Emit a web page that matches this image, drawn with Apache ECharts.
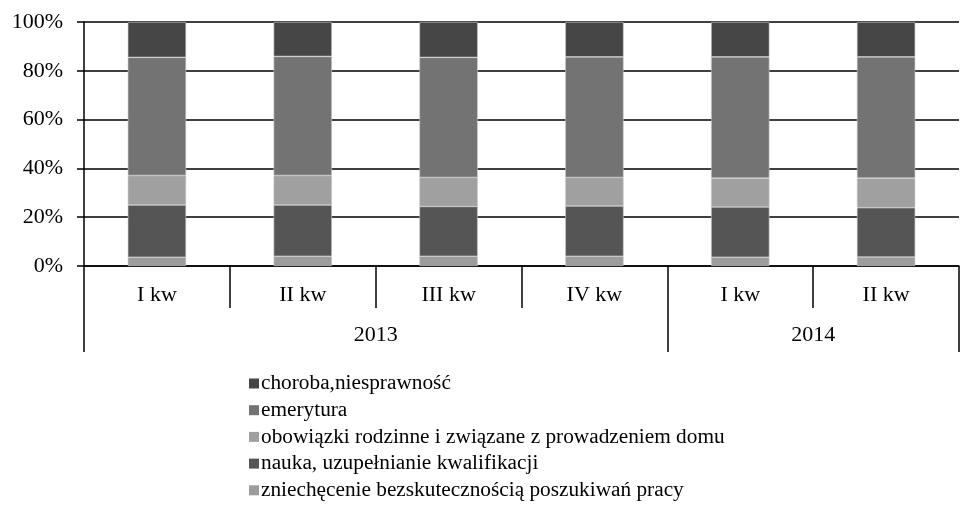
<!DOCTYPE html>
<html>
<head>
<meta charset="utf-8">
<script src="https://cdn.jsdelivr.net/npm/echarts@6/dist/echarts.min.js"></script>
<style>
  html, body { margin: 0; padding: 0; background: #fff; }
  #chart { width: 962px; height: 505px; }
</style>
</head>
<body>
<div id="chart"></div>
<script>
// kwartały i lata
var quarters = ['I kw', 'II kw', 'III kw', 'IV kw', 'I kw', 'II kw'];
var years = ['', '', '', '', '2013', '', '', '', '', '', '2014', '', ''];
var yTicks = [0, 20, 40, 60, 80, 100];

// udziały w % (od dołu słupka)
var zniechecenie = [3.6, 4.0, 4.0, 4.0, 3.6, 3.7];
var nauka = [21.4, 21.0, 20.4, 20.6, 20.6, 20.2];
var obowiazki = [12.1, 12.1, 11.9, 11.7, 11.8, 12.1];
var emerytura = [48.4, 48.8, 49.2, 49.4, 49.7, 49.7];
var choroba = [14.5, 14.1, 14.5, 14.3, 14.3, 14.3];

var font = 'Liberation Serif';
var chart = echarts.init(document.getElementById('chart'));

function bar(name, data, color) {
  return {
    name: name,
    type: 'bar',
    stack: 'all',
    barWidth: '40%',
    data: data,
    itemStyle: { color: color, borderColor: '#c8c8c8', borderWidth: 0.6 }
  };
}

var option = {
  animation: false,
  textStyle: { fontFamily: font },
  grid: { left: 84, top: 22, width: 885, height: 244 },
  legend: {
    orient: 'vertical',
    left: 244,
    top: 368,
    height: 200,
    itemGap: 5.7,
    itemWidth: 10,
    itemHeight: 10,
    icon: 'rect',
    itemStyle: { borderWidth: 0 },
    textStyle: { fontFamily: font, fontSize: 21.3, color: '#000', padding: [0, 0, 0, -3] },
    data: ['choroba,niesprawność', 'emerytura',
      'obowiązki rodzinne i związane z prowadzeniem domu',
      'nauka, uzupełnianie kwalifikacji',
      'zniechęcenie bezskutecznością poszukiwań pracy']
  },
  xAxis: [{
    type: 'category',
    position: 'bottom',
    data: quarters,
    axisLine: { lineStyle: { color: '#000', width: 1.5 } },
    axisTick: { show: true, length: 42, lineStyle: { color: '#000', width: 1.5 } },
    axisLabel: { color: '#000', fontFamily: font, fontSize: 22, margin: 18 }
  }, {
    type: 'category',
    position: 'bottom',
    boundaryGap: false,
    data: years,
    axisLine: { show: false },
    axisTick: {
      show: true,
      length: 86,
      interval: function (i) { return i === 0 || i === 8 || i === 12; },
      lineStyle: { color: '#000', width: 1.5 }
    },
    axisLabel: { color: '#000', fontFamily: font, fontSize: 22, margin: 58, interval: 0 }
  }],
  yAxis: {
    type: 'value',
    min: yTicks[0],
    max: yTicks[yTicks.length - 1],
    interval: 20,
    axisLine: { show: true, lineStyle: { color: '#000', width: 1.5 } },
    axisTick: { show: true, length: 7, lineStyle: { color: '#000', width: 1.5 } },
    axisLabel: { color: '#000', fontFamily: font, fontSize: 22, margin: 21, formatter: '{value}%' },
    splitLine: { lineStyle: { color: '#000', width: 1.5 } }
  },
  series: [
    bar('zniechęcenie bezskutecznością poszukiwań pracy', zniechecenie, '#9c9c9c'),
    bar('nauka, uzupełnianie kwalifikacji', nauka, '#555555'),
    bar('obowiązki rodzinne i związane z prowadzeniem domu', obowiazki, '#a0a0a0'),
    bar('emerytura', emerytura, '#737373'),
    bar('choroba,niesprawność', choroba, '#464646')
  ]
};

chart.setOption(option);
</script>
</body>
</html>
